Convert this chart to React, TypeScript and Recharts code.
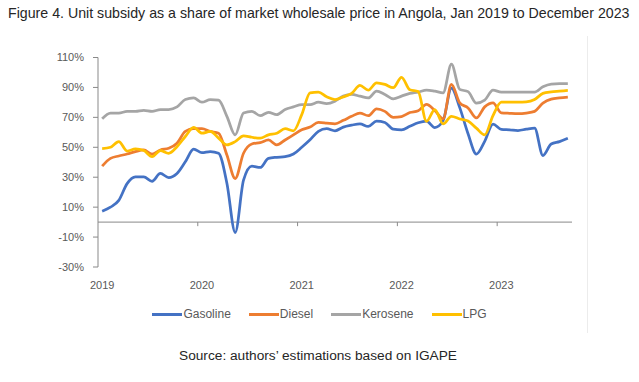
import React from 'react';
import { LineChart, Line, XAxis, YAxis, ReferenceLine } from 'recharts';

// monthly, Jan 2019 .. Sep 2023 (57 months), % of market wholesale price
const years = ['2019', '2020', '2021', '2022', '2023'];

const gasoline = [
  7.3, 10.0, 14.5, 25.7, 30.2, 30.2, 27.3, 32.5, 29.8, 32.5, 40.3, 48.7,
  46.4, 47.1, 46.0, 26.0, -7.0, 28.0, 37.4, 36.5, 42.6, 43.3, 43.7, 45.5,
  50.0, 55.0, 60.6, 62.4, 61.0, 63.5, 64.8, 65.7, 63.9, 67.5, 66.6, 62.1,
  61.7, 64.0, 66.4, 67.5, 63.2, 67.8, 89.5, 76.5, 59.0, 45.5, 54.0, 65.5,
  62.0, 61.7, 61.2, 62.1, 62.8, 44.5, 52.2, 53.8, 56.0,
];

const diesel = [
  37.4, 42.6, 44.2, 45.5, 47.1, 48.2, 45.5, 48.2, 49.3, 52.7, 60.6, 62.4,
  62.4, 60.6, 59.4, 44.8, 29.1, 46.0, 52.2, 53.1, 54.9, 51.6, 54.9, 58.3,
  61.7, 63.5, 66.6, 66.2, 65.7, 68.0, 70.7, 72.9, 71.1, 75.6, 74.0, 70.0,
  70.5, 73.2, 74.4, 78.7, 74.6, 69.0, 92.0, 79.7, 76.3, 69.6, 77.0, 79.7,
  73.0, 72.7, 72.5, 72.9, 74.0, 79.5, 82.2, 83.0, 83.5,
];

const kerosene = [
  69.1, 72.9, 72.9, 74.0, 74.0, 74.7, 74.0, 75.2, 75.2, 77.0, 81.9, 83.0,
  80.1, 81.9, 81.5, 70.7, 58.3, 72.9, 74.0, 71.1, 73.4, 71.8, 75.2, 77.0,
  78.5, 78.5, 80.1, 79.2, 80.8, 84.2, 85.3, 84.2, 83.0, 87.5, 85.3, 82.4,
  84.2, 86.0, 86.9, 88.2, 87.5, 86.4, 105.5, 88.7, 87.2, 79.5, 81.5, 88.2,
  86.9, 86.9, 86.9, 86.9, 86.9, 90.4, 92.2, 92.5, 92.5,
];

const lpg = [
  49.1, 50.0, 53.8, 47.5, 48.9, 47.8, 43.7, 47.8, 46.0, 50.4, 57.2, 63.3,
  59.4, 60.6, 56.1, 51.6, 53.8, 57.6, 56.7, 56.1, 58.3, 59.4, 62.4, 61.0,
  71.8, 86.4, 86.9, 83.7, 81.9, 83.7, 86.0, 91.3, 88.2, 93.1, 92.0, 89.8,
  96.8, 88.4, 87.2, 67.3, 75.2, 65.6, 70.7, 68.9, 67.5, 62.8, 58.3, 71.2,
  80.2, 80.1, 80.1, 80.3, 81.9, 86.0, 87.0, 87.5, 88.0,
];

const yTicks = [-30, -10, 10, 30, 50, 70, 90, 110];

const series = [
  { key: 'gasoline', name: 'Gasoline', color: '#4472C4' },
  { key: 'diesel', name: 'Diesel', color: '#ED7D31' },
  { key: 'kerosene', name: 'Kerosene', color: '#A5A5A5' },
  { key: 'lpg', name: 'LPG', color: '#FFC000' },
];

// each month sits in the middle of its slot, year boundaries at multiples of 12
const data = gasoline.map((g, i) => ({
  t: i + 0.5,
  gasoline: g,
  diesel: diesel[i],
  kerosene: kerosene[i],
  lpg: lpg[i],
}));

const yearLabelPos = years.map((_, k) => k * 12 + 0.5);
const yearBounds = years.slice(1).map((_, k) => (k + 1) * 12);

const axisGray = '#898989';
const labelFont = 'Liberation Sans, Arial, sans-serif';
const noteFont = 'Liberation Sans, Arial, sans-serif';

const App = () => {
  return (
    <div
      style={{
        position: 'absolute',
        left: 0,
        top: 0,
        width: 639,
        height: 382,
        background: '#fff',
        overflow: 'hidden',
      }}
    >
      <div
        style={{
          position: 'absolute',
          left: 8,
          top: 5,
          fontFamily: noteFont,
          fontSize: 14.2,
          color: '#262626',
          whiteSpace: 'nowrap',
        }}
      >
        Figure 4. Unit subsidy as a share of market wholesale price in Angola, Jan 2019 to December 2023
      </div>

      <div
        style={{
          position: 'absolute',
          left: 587,
          top: 36,
          height: 297,
          borderLeft: '1px solid #ececec',
        }}
      />

      <div style={{ position: 'absolute', left: 0, top: 0 }}>
        <LineChart
          width={639}
          height={300}
          data={data}
          margin={{ top: 57.5, right: 67, bottom: 0, left: 0 }}
        >
          <XAxis
            type="number"
            dataKey="t"
            domain={[0, 57]}
            ticks={yearLabelPos}
            tickFormatter={(v: number) => years[Math.floor(v / 12)]}
            axisLine={false}
            tickLine={false}
            tickSize={0}
            tickMargin={14}
            height={33}
            interval={0}
            tick={{ fill: '#595959', fontSize: 11, fontFamily: labelFont }}
          />
          <YAxis
            domain={[-30, 110]}
            ticks={yTicks}
            interval={0}
            width={98}
            tickFormatter={(v: number) => `${v}%`}
            axisLine={{ stroke: axisGray }}
            tickLine={{ stroke: axisGray }}
            tickSize={5}
            tickMargin={9}
            tick={{ fill: '#595959', fontSize: 11, fontFamily: labelFont }}
          />
          <ReferenceLine y={0} stroke={axisGray} strokeWidth={1} />
          {yearBounds.map((b) => (
            <ReferenceLine
              key={b}
              segment={[
                { x: b, y: 0 },
                { x: b, y: -2.7 },
              ]}
              stroke={axisGray}
            />
          ))}
          {series.map((s) => (
            <Line
              key={s.key}
              type="monotone"
              dataKey={s.key}
              name={s.name}
              stroke={s.color}
              strokeWidth={2.75}
              dot={false}
              activeDot={false}
              isAnimationActive={false}
            />
          ))}
        </LineChart>
      </div>

      <div
        style={{
          position: 'absolute',
          left: 0,
          top: 306,
          width: 639,
          display: 'flex',
          justifyContent: 'center',
          gap: 18,
          fontFamily: labelFont,
          fontSize: 12,
          color: '#595959',
          lineHeight: '16px',
        }}
      >
        {series.map((s) => (
          <div key={s.key} style={{ display: 'flex', alignItems: 'center' }}>
            <span
              style={{
                display: 'inline-block',
                width: 30,
                height: 3,
                background: s.color,
                marginRight: 1,
              }}
            />
            <span>{s.name}</span>
          </div>
        ))}
      </div>

      <div
        style={{
          position: 'absolute',
          left: 0,
          top: 348,
          width: 636,
          textAlign: 'center',
          fontFamily: noteFont,
          fontSize: 13.7,
          color: '#262626',
        }}
      >
        Source: authors’ estimations based on IGAPE
      </div>
    </div>
  );
};

export default App;
